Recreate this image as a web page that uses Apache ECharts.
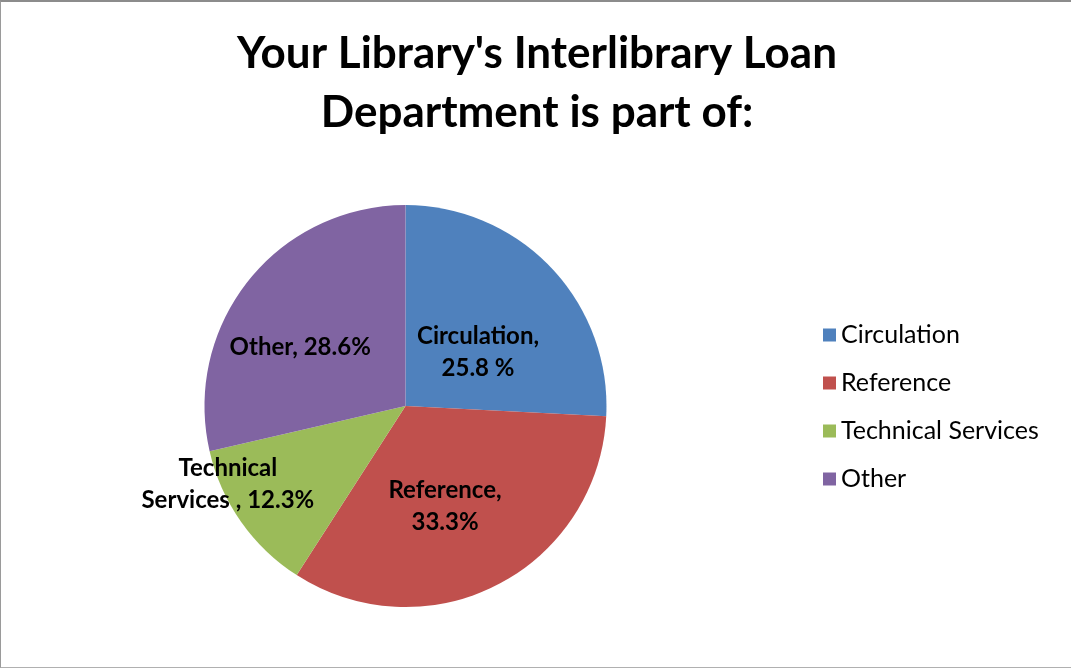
<!DOCTYPE html>
<html>
<head>
<meta charset="utf-8">
<script src="https://cdn.jsdelivr.net/npm/echarts@6/dist/echarts.min.js"></script>
<style>
html,body{margin:0;padding:0;background:#fff;}
#frame{position:absolute;left:0;top:0;width:1070px;height:665px;border-top:2px solid #8c8c8c;border-left:1px solid #9a9a9a;border-bottom:1px solid #b0b0b0;}
#chart{width:1071px;height:669px;}
</style>
</head>
<body>
<div id="chart"></div>
<div id="frame"></div>
<script>
const categories = ['Circulation', 'Reference', 'Technical Services', 'Other'];
const values = [25.8, 33.3, 12.3, 28.6];
const labelTexts = ['Circulation,\n25.8 %', 'Reference,\n33.3%', 'Technical\nServices , 12.3%', 'Other, 28.6%'];
const colors = ['#4F81BD', '#C0504D', '#9BBB59', '#8064A2'];
// label placement: fraction of radius and angular shift (deg) from the slice's mid-angle
const labelRadiusFrac = [0.45, 0.535, 0.965, 0.60];
const labelAngleShift = [6.9, 5.6, 11.4, -9.3];

const W = 1071, H = 669;
const cx = W * 0.3786, cy = H * 0.607, R = 201;
const total = values.reduce((a, b) => a + b, 0);
const midAngles = [];
{ let acc = 0; values.forEach(v => { midAngles.push((acc + v / 2) / total * 360); acc += v; }); }

const chart = echarts.init(document.getElementById('chart'), null, {renderer: 'canvas'});
chart.setOption({
  animation: false,
  color: colors,
  title: {
    text: "Your Library's Interlibrary Loan\nDepartment is part of:",
    left: 532, top: 19, textAlign: 'center',
    textStyle: {fontFamily: 'Lato', fontWeight: 'bold', fontSize: 44, lineHeight: 59, color: '#000'}
  },
  legend: {
    orient: 'vertical', left: 818, top: 315,
    itemWidth: 13, itemHeight: 13, itemGap: 18, icon: 'rect',
    textStyle: {fontFamily: 'Lato', fontSize: 25, lineHeight: 30, color: '#000', padding: [0,0,0,0]},
    data: categories
  },
  series: [{
    type: 'pie',
    center: [cx, cy], radius: R,
    startAngle: 90, clockwise: true,
    data: categories.map((c, i) => ({name: c, value: values[i]})),
    itemStyle: {borderWidth: 0},
    label: {
      position: 'inside',
      formatter: p => labelTexts[p.dataIndex],
      fontFamily: 'Lato', fontWeight: 'bold', fontSize: 24, lineHeight: 32, color: '#000'
    },
    labelLine: {show: false},
    labelLayout: function (p) {
      const i = p.dataIndex;
      const a = (midAngles[i] + labelAngleShift[i]) * Math.PI / 180;
      const d = labelRadiusFrac[i] * R;
      return {x: cx + d * Math.sin(a), y: cy - d * Math.cos(a), align: 'center', verticalAlign: 'middle'};
    }
  }]
});
</script>
</body>
</html>
